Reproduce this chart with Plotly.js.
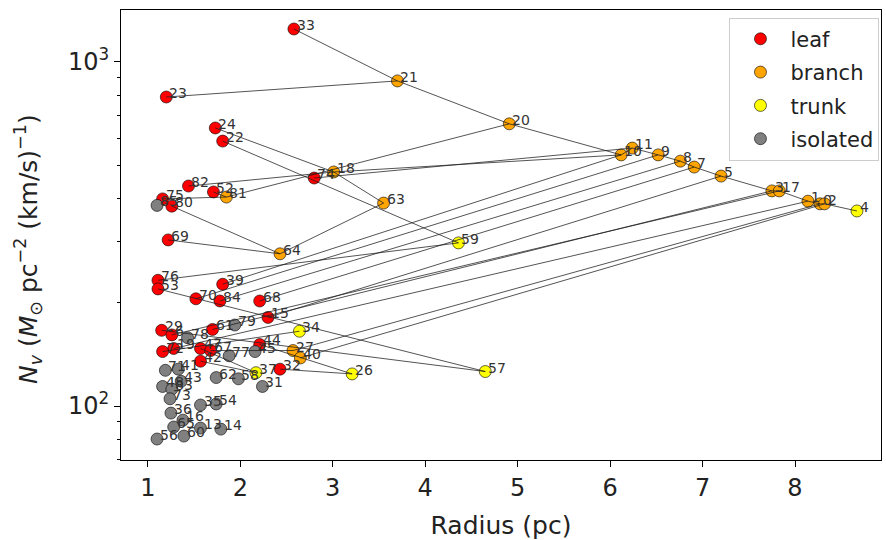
<!DOCTYPE html>
<html>
<head>
<meta charset="utf-8">
<script src="https://cdn.plot.ly/plotly-3.0.1.min.js"></script>
<style>html,body{margin:0;padding:0;background:#fff;}#chart{width:886px;height:540px;}</style>
</head>
<body>
<div id="chart"></div>
<script>
// ---- data ----
const leafIds = ['33','23','24','22','74','82','52','75','80','69','76','53','39','70','84','68','15','29','6','61','19','72','47','67','42','44','32'];
const leafX   = [2.58,1.20,1.73,1.81,2.80,1.44,1.71,1.16,1.26,1.22,1.11,1.11,1.81,1.52,1.78,2.21,2.30,1.15,1.26,1.70,1.28,1.16,1.57,1.68,1.57,2.21,2.43];
const leafY   = [1247,791,643,589,460,436,419,400,381,304,232,219,226,205,202,202,181,166,161,167,147,144,147,145,135,151,128];
const leafParent = ['21','21','18','59','11','18','81','81','64','64','59','57','10','9','8','7','5','57','17','3','1','34','37','27','37','26','26'];

const branchIds = ['21','20','18','81','63','64','11','10','9','8','7','5','3','17','1','0','2','27','40'];
const branchX   = [3.70,4.91,3.01,1.85,3.55,2.43,6.24,6.12,6.52,6.76,6.91,7.20,7.75,7.83,8.14,8.27,8.32,2.57,2.65];
const branchY   = [881,661,479,405,389,277,562,537,537,515,495,466,422,422,394,387,387,145,138];
const branchParent = ['20','10','10','20','18','63','9','11','8','7','5','3','17','1','0','2','4','0','2'];

const trunkIds = ['4','59','34','57','26','37'];
const trunkX   = [8.67,4.36,2.64,4.65,3.21,2.17];
const trunkY   = [369,298,165,126,124,125];

const isoIds = ['85','78','79','77','45','62','58','31','71','41','48','83','43','73','36','65','35','54','13','14','56','60','16'];
const isoX   = [1.10,1.43,1.94,1.88,2.16,1.74,1.98,2.24,1.19,1.33,1.16,1.26,1.36,1.24,1.25,1.28,1.57,1.74,1.57,1.79,1.10,1.39,1.38];
const isoY   = [383,158,172,140,144,121,120,114,127,128,114,112,118,105,95.4,86.9,100.7,101.4,86.3,85.7,80.2,81.8,91.0];

const xTicks = [1,2,3,4,5,6,7,8];
const yTickVals = [100,1000];
const yTickText = ['10<sup>2</sup>','10<sup>3</sup>'];
const yMinorVals = [70,80,90,200,300,400,500,600,700,800,900];
const yTitle = '<i>N</i><sub><i>v</i></sub> (<i>M</i><sub>⊙</sub> pc<sup>−2</sup> (km/s)<sup>−1</sup>)';

// ---- build ----
const pos = {};
function reg(ids, xs, ys){ ids.forEach((id,i)=>{ pos[id] = [xs[i], ys[i]]; }); }
reg(leafIds, leafX, leafY); reg(branchIds, branchX, branchY); reg(trunkIds, trunkX, trunkY);

const lx = [], ly = [];
function links(ids, parents){
  ids.forEach((id,i)=>{
    const p = parents[i];
    if (p && pos[p]) { lx.push(pos[id][0], pos[p][0], null); ly.push(pos[id][1], pos[p][1], null); }
  });
}
links(leafIds, leafParent); links(branchIds, branchParent);

function pts(name, xs, ys, color){
  return {type:'scatter', mode:'markers', name:name, legendgroup:name, x:xs, y:ys,
    marker:{color:color, size:12, line:{color:'#000', width:0.6}}, hoverinfo:'skip'};
}
const traces = [
  pts('leaf', leafX, leafY, '#ff0000'),
  pts('branch', branchX, branchY, '#ffa500'),
  pts('trunk', trunkX, trunkY, '#ffff00'),
  pts('isolated', isoX, isoY, '#808080'),
  {type:'scatter', mode:'lines', x:lx, y:ly, showlegend:false, hoverinfo:'skip',
   line:{color:'rgba(30,30,30,0.85)', width:0.9}}
];

const annotations = [];
function labs(ids, xs, ys){
  ids.forEach((id,i)=>{
    annotations.push({x:xs[i], y:Math.log10(ys[i]), xref:'x', yref:'y', text:id, showarrow:false,
      xanchor:'left', yanchor:'middle', xshift:1, yshift:4,
      font:{family:'DejaVu Sans', size:14, color:'#333'}});
  });
}
labs(leafIds, leafX, leafY); labs(branchIds, branchX, branchY); labs(trunkIds, trunkX, trunkY); labs(isoIds, isoX, isoY);
annotations.push({xref:'paper', yref:'paper', x:0, y:0.5, xshift:-93, yshift:-14, text:yTitle,
  textangle:-90, showarrow:false, xanchor:'center', yanchor:'middle', font:{size:25, color:'#222'}});

const layout = {
  width:886, height:540,
  margin:{l:121, r:5, t:10, b:80},
  paper_bgcolor:'#fff', plot_bgcolor:'#fff',
  font:{family:'DejaVu Sans', color:'#222'},
  showlegend:true,
  legend:{x:0.998, y:0.983, xanchor:'right', yanchor:'top', bgcolor:'rgba(255,255,255,0.85)',
    bordercolor:'#cccccc', borderwidth:1, font:{size:21, family:'DejaVu Sans'}, itemwidth:50,
    tracegroupgap:3},
  xaxis:{range:[0.71,8.93], tickvals:xTicks, ticks:'outside', ticklen:6, tickcolor:'#000',
    showline:true, linecolor:'#000', linewidth:1, mirror:true, showgrid:false, zeroline:false,
    tickfont:{size:24}, title:{text:'Radius (pc)', font:{size:25}}},
  yaxis:{type:'log', range:[Math.log10(69.7), Math.log10(1416)], tickvals:yTickVals, ticktext:yTickText,
    ticks:'outside', ticklen:6, tickcolor:'#000', showline:true, linecolor:'#000', linewidth:1, mirror:true,
    showgrid:false, zeroline:false, tickfont:{size:24},
    minor:{tickvals:yMinorVals, ticks:'outside', ticklen:3, tickcolor:'#000', showgrid:false}},
  annotations:annotations
};
Plotly.newPlot('chart', traces, layout, {staticPlot:true});
</script>
</body>
</html>
